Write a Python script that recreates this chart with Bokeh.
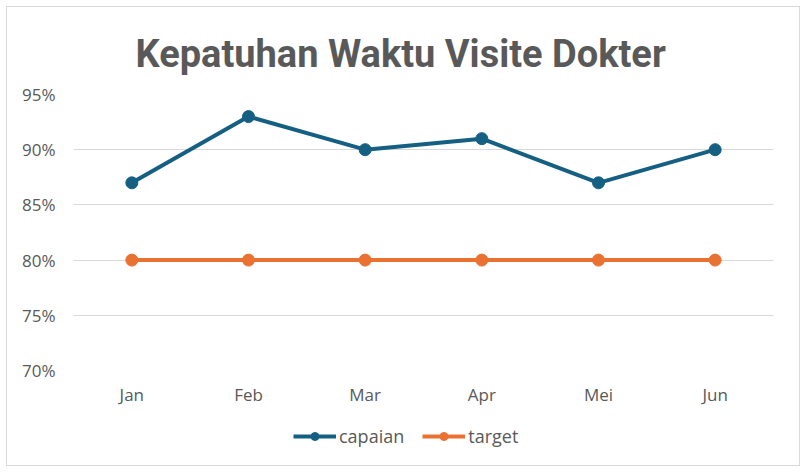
from bokeh.plotting import figure
from bokeh.models import (ColumnDataSource, NumeralTickFormatter, Legend, LegendItem,
                          FixedTicker, Range1d)
from bokeh.layouts import column
from bokeh.embed import file_html
from bokeh.resources import INLINE

months = ["Jan", "Feb", "Mar", "Apr", "Mei", "Jun"]
capaian = [0.87, 0.93, 0.90, 0.91, 0.87, 0.90]
target = [0.80, 0.80, 0.80, 0.80, 0.80, 0.80]
y_ticks = [0.70, 0.75, 0.80, 0.85, 0.90, 0.95]
title_text = "Kepatuhan Waktu Visite Dokter"

BLUE = "#156082"
ORANGE = "#E97132"
GRAY = "#595959"
FONT = "Open Sans"

src = ColumnDataSource(dict(m=months, c=capaian, t=target))

# main chart
p = figure(x_range=months, y_range=(0.70, 0.95), width=792, height=401,
           output_backend="svg", toolbar_location=None,
           min_border_left=66, min_border_right=26, min_border_top=87, min_border_bottom=36)
p.outline_line_color = None
p.background_fill_color = "white"
p.border_fill_color = "white"

p.title.text = title_text
p.title.align = "left"
p.title.offset = 62
p.title.vertical_align = "top"
p.title.standoff = 34
p.title.text_font = "Roboto"
p.title.text_font_style = "bold"
p.title.text_font_size = "38px"
p.title.text_color = GRAY

p.xgrid.grid_line_color = None
p.ygrid.grid_line_color = "#D9D9D9"
p.ygrid.grid_line_width = 1

p.yaxis.ticker = FixedTicker(ticks=y_ticks)
p.yaxis.formatter = NumeralTickFormatter(format="0%")
for ax in (p.xaxis[0], p.yaxis[0]):
    ax.axis_line_color = None
    ax.major_tick_line_color = None
    ax.minor_tick_line_color = None
    ax.major_tick_out = 0
    ax.major_tick_in = 0
    ax.major_label_text_color = GRAY
    ax.major_label_text_font = FONT
    ax.major_label_text_font_size = "17px"
p.yaxis.major_label_standoff = 18
p.xaxis.major_label_standoff = 12

p.line("m", "c", source=src, line_color=BLUE, line_width=4)
p.scatter("m", "c", source=src, size=12, fill_color=BLUE, line_color=BLUE)
p.line("m", "t", source=src, line_color=ORANGE, line_width=4)
p.scatter("m", "t", source=src, size=12, fill_color=ORANGE, line_color=ORANGE)

# legend strip (its frame fills the strip so the legend is never clipped)
q = figure(x_range=p.x_range, y_range=Range1d(0, 0.1), width=792, height=57,
           output_backend="svg", toolbar_location=None,
           x_axis_location=None, y_axis_location=None, min_border=0)
q.outline_line_color = None
q.xgrid.grid_line_color = None
q.ygrid.grid_line_color = None
l1 = q.line("m", "c", source=src, line_color=BLUE, line_width=4)
s1 = q.scatter("m", "c", source=src, size=13, fill_color=BLUE, line_color=BLUE)
l2 = q.line("m", "t", source=src, line_color=ORANGE, line_width=4)
s2 = q.scatter("m", "t", source=src, size=13, fill_color=ORANGE, line_color=ORANGE)

legend = Legend(items=[LegendItem(label="capaian", renderers=[l1, s1]),
                       LegendItem(label="target", renderers=[l2, s2])],
                orientation="horizontal", location=(220, 17),
                glyph_width=43, glyph_height=20, label_standoff=3, spacing=18,
                padding=0, margin=0, border_line_color=None, background_fill_alpha=0,
                label_text_font=FONT, label_text_font_size="18px", label_text_color=GRAY)
q.add_layout(legend, "center")

layout = column(p, q, spacing=0)
layout.margin = (6, 0, 0, 6)
layout.styles = {"border": "1px solid #D9D9D9", "background-color": "white"}

open("out.html", "w").write(file_html(layout, INLINE))
